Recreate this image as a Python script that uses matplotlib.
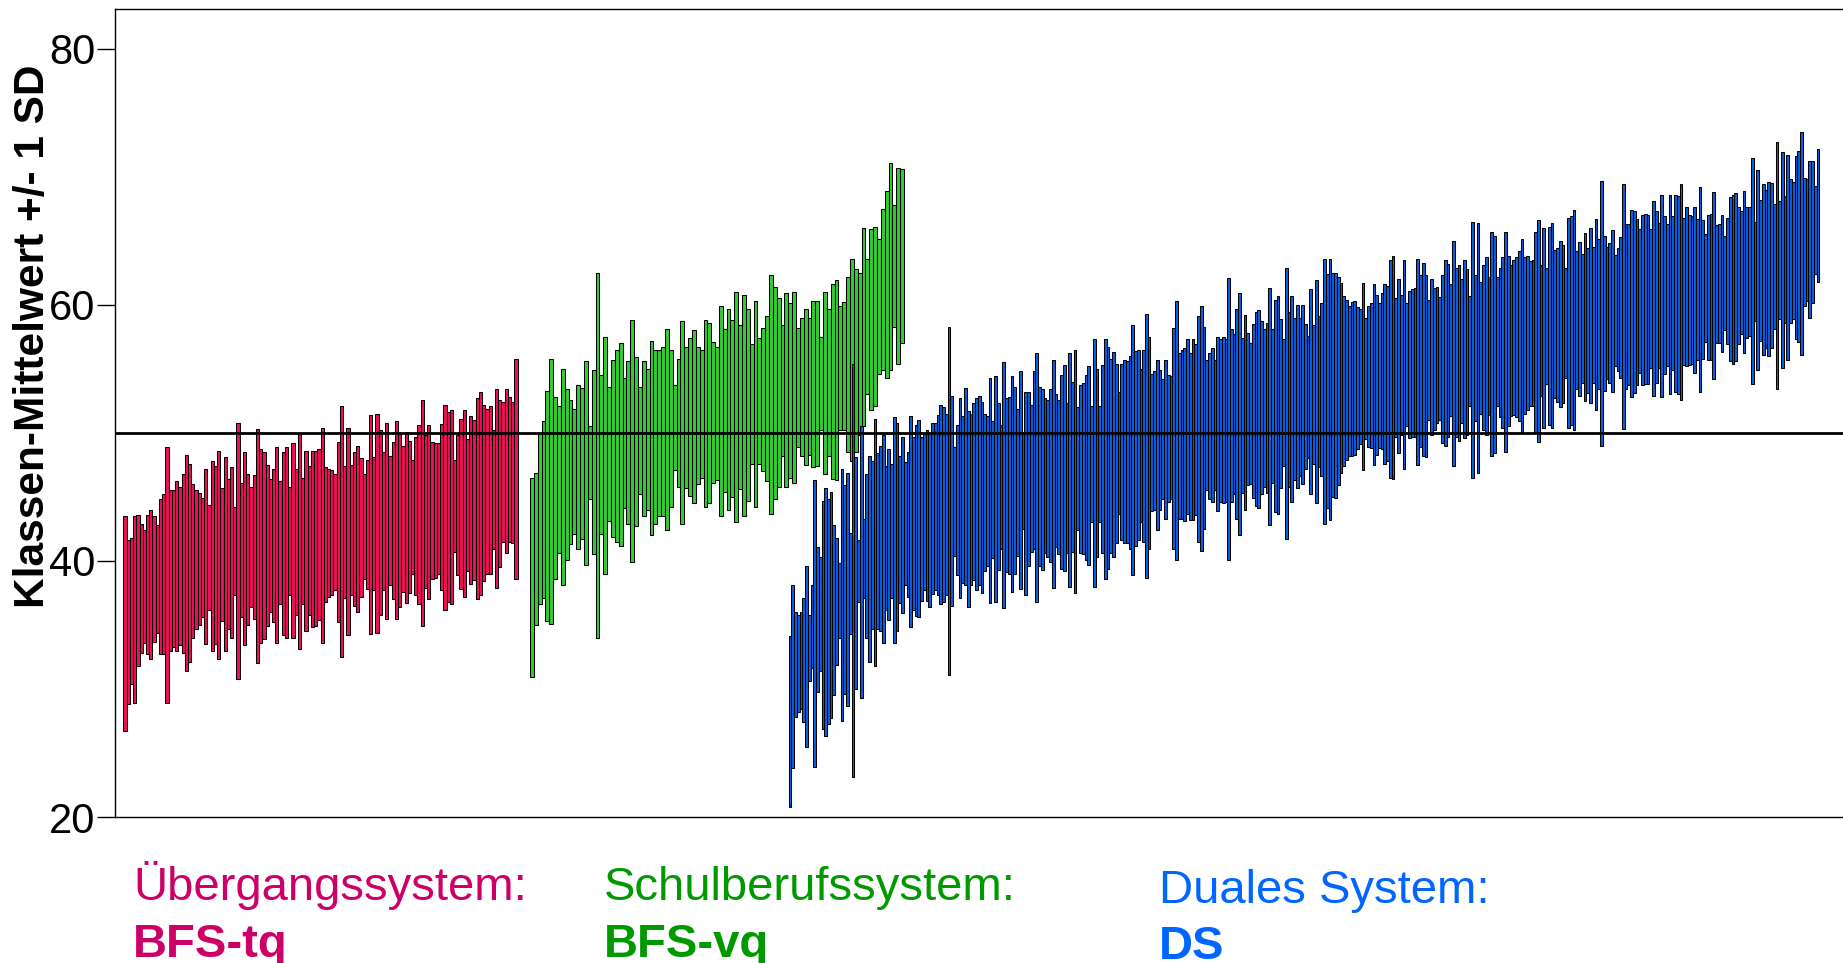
import numpy as np
import matplotlib.pyplot as plt

plt.rcParams['font.family'] = ['Liberation Sans', 'DejaVu Sans']

# Klassen je System, nach Mittelwert sortiert: obere Grenze (M + 1 SD) und untere Grenze (M - 1 SD)
tq_hi = [43.5, 41.6, 41.8, 43.5, 43.6, 42.9, 42.4, 43.6, 44.0, 43.5,
         42.8, 44.8, 45.2, 48.9, 45.5, 45.5, 46.2, 45.8, 46.8, 48.3,
         47.6, 46.0, 45.5, 45.3, 44.9, 47.2, 44.4, 47.8, 47.4, 48.6,
         45.7, 48.1, 46.4, 47.3, 44.2, 50.8, 46.1, 48.5, 46.8, 45.8,
         46.7, 50.3, 48.7, 48.5, 47.5, 46.4, 47.2, 48.9, 46.2, 48.5,
         48.9, 45.8, 49.2, 47.2, 50.0, 46.5, 48.6, 47.4, 48.6, 48.6,
         48.7, 50.4, 47.3, 47.2, 47.1, 46.8, 49.3, 52.1, 47.4, 50.4,
         47.5, 48.5, 49.0, 48.0, 46.8, 47.9, 51.4, 48.1, 51.5, 50.2,
         48.5, 50.8, 48.2, 49.3, 50.9, 50.0, 49.0, 50.1, 49.4, 47.9,
         49.7, 50.6, 52.6, 49.8, 50.6, 49.3, 49.2, 49.2, 50.7, 52.2,
         51.6, 51.8, 47.9, 49.8, 51.1, 51.8, 49.5, 51.3, 51.0, 52.7,
         53.2, 52.2, 51.9, 52.1, 50.2, 53.4, 52.6, 52.4, 53.4, 52.8,
         52.4, 55.8]
tq_lo = [26.7, 28.8, 30.4, 28.9, 31.8, 32.8, 33.6, 32.7, 32.3, 33.7,
         34.4, 32.7, 32.7, 28.9, 33.0, 33.3, 33.0, 33.4, 32.8, 31.4,
         32.1, 34.0, 34.7, 35.0, 35.6, 33.5, 36.2, 33.0, 33.5, 32.3,
         35.3, 33.0, 34.7, 34.0, 37.3, 30.8, 35.6, 33.4, 35.0, 36.4,
         35.5, 32.0, 33.6, 33.9, 34.9, 36.0, 35.2, 33.6, 36.6, 34.2,
         34.0, 37.3, 34.0, 35.8, 33.1, 36.6, 34.5, 35.8, 34.8, 34.9,
         35.4, 33.6, 36.8, 37.2, 37.3, 37.7, 35.2, 32.5, 37.1, 34.2,
         37.3, 36.5, 36.0, 37.2, 38.6, 37.8, 34.3, 37.7, 34.4, 35.8,
         37.7, 35.5, 38.1, 37.0, 35.5, 36.4, 37.6, 36.7, 37.5, 39.0,
         37.3, 36.6, 34.9, 37.9, 37.0, 38.6, 38.7, 39.0, 37.7, 36.2,
         36.8, 36.6, 40.7, 38.9, 37.8, 37.2, 39.2, 38.2, 38.5, 37.0,
         37.3, 38.4, 39.0, 39.0, 40.9, 37.9, 39.5, 41.5, 40.6, 41.5,
         41.4, 38.6]

vq_hi = [46.5, 46.9, 50.0, 50.9, 53.3, 55.8, 52.8, 52.1, 55.0, 53.4,
         52.6, 51.9, 53.7, 53.5, 55.6, 50.5, 54.9, 62.5, 54.5, 57.5,
         53.6, 55.7, 56.5, 57.0, 54.3, 55.6, 58.8, 55.9, 53.6, 55.6,
         55.0, 57.2, 56.5, 56.5, 56.7, 58.1, 56.5, 53.7, 55.8, 58.7,
         56.7, 57.4, 58.0, 56.7, 56.5, 58.8, 58.6, 57.1, 56.7, 59.9,
         58.1, 59.7, 58.8, 61.0, 58.4, 60.8, 59.7, 56.9, 60.3, 57.4,
         58.2, 59.1, 62.3, 61.4, 60.5, 58.4, 60.9, 60.1, 61.0, 58.2,
         59.0, 59.7, 59.0, 60.3, 60.3, 57.5, 61.0, 59.7, 61.6, 61.9,
         59.9, 60.2, 62.2, 63.6, 62.8, 62.5, 66.0, 63.6, 65.9, 66.1,
         65.1, 67.5, 68.9, 71.1, 67.8, 70.7, 70.6]
vq_lo = [30.9, 35.0, 36.6, 37.1, 35.3, 35.1, 38.6, 40.6, 38.1, 40.1,
         41.3, 42.1, 40.9, 41.7, 39.7, 44.8, 40.5, 34.0, 42.1, 39.0,
         43.1, 41.9, 41.5, 41.2, 44.1, 42.9, 39.9, 42.7, 45.2, 43.5,
         44.0, 42.0, 42.9, 43.5, 43.5, 42.4, 44.2, 47.1, 45.8, 42.9,
         45.7, 45.1, 44.5, 46.0, 46.5, 44.2, 44.5, 46.1, 46.3, 43.5,
         45.4, 44.0, 45.0, 43.0, 45.6, 43.5, 44.7, 47.6, 44.2, 47.6,
         47.0, 46.2, 43.7, 44.8, 45.8, 48.2, 45.8, 46.5, 46.1, 48.9,
         48.2, 47.5, 48.3, 47.3, 47.4, 50.2, 46.8, 48.2, 46.4, 46.3,
         50.2, 50.2, 48.5, 47.8, 48.5, 49.8, 50.5, 53.0, 51.8, 52.1,
         54.6, 54.9, 54.3, 54.9, 58.3, 55.4, 57.0]

ds_hi = [34.1, 38.1, 36.0, 35.8, 36.0, 37.1, 39.6, 35.8, 38.1, 46.3,
         41.1, 40.3, 44.7, 45.7, 44.8, 45.4, 42.8, 41.8, 39.8, 47.2,
         45.9, 46.9, 42.2, 55.4, 48.1, 41.6, 50.5, 43.3, 46.8, 48.2,
         47.8, 51.1, 48.4, 49.0, 49.8, 47.4, 48.7, 47.6, 51.2, 50.8,
         48.2, 49.7, 47.7, 48.5, 51.3, 49.7, 50.6, 51.0, 49.7, 49.9,
         50.2, 50.0, 50.8, 50.8, 51.4, 52.2, 52.0, 51.5, 58.3, 52.9,
         48.9, 50.6, 52.7, 51.3, 53.5, 51.7, 51.5, 52.3,
         52.7, 52.9, 52.4, 51.5, 51.3, 54.3, 50.9, 54.4, 52.3, 50.6,
         55.5, 52.7, 52.8, 54.4, 53.6, 51.9, 54.8, 50.1, 53.2, 53.2,
         52.2, 54.8, 56.2, 53.6, 53.4, 52.7, 52.6, 53.4, 55.7, 53.0,
         52.6, 54.5, 55.3, 52.3, 56.2, 54.0, 56.5, 52.0, 53.7, 53.9,
         54.5, 55.2, 52.1, 57.3, 55.0, 52.1, 55.3, 57.3, 56.7, 55.8,
         56.3, 55.4, 53.2, 55.4, 55.7, 55.6, 56.0, 58.4, 56.4, 56.5,
         55.0, 56.5, 59.3, 57.5, 54.6, 54.8, 55.7, 54.9, 54.2, 55.7,
         54.5, 54.4, 58.2,
         60.3, 56.2, 56.5, 56.6, 57.3, 56.2, 57.3, 56.9, 59.1, 59.9,
         58.3, 55.7, 56.2, 56.6, 55.7, 57.5, 57.3, 57.5, 57.3, 62.1,
         58.1, 57.7, 59.7, 60.9, 57.4, 59.2, 57.8, 57.0, 58.5, 59.4,
         59.6, 58.7, 58.1, 58.6, 61.3, 58.1, 60.4, 60.7, 58.9, 57.3,
         62.9, 59.4, 60.7, 59.0, 60.0, 59.0, 60.0, 58.5, 57.6, 61.2,
         58.4, 61.9, 59.1, 60.1, 63.6, 62.4, 63.6, 62.5, 62.5, 62.2,
         61.7, 60.7, 60.4, 59.9, 60.2, 60.3, 59.8, 59.7, 61.7, 59.0,
         59.9, 60.1, 61.6, 60.8, 60.1, 60.9, 61.6, 61.5, 63.5, 63.8,
         60.5, 62.0, 60.8, 63.5, 60.1, 61.1, 61.2, 61.3, 63.6, 62.3,
         63.3, 62.3, 60.4, 62.0, 61.3, 61.4, 60.6, 62.3, 63.5, 63.2,
         61.6, 65.0, 62.9, 63.1, 62.0, 63.5, 62.8, 60.7, 66.5, 62.3,
         66.4, 61.8, 63.1, 63.7, 62.2, 65.7, 65.4, 62.2, 62.9, 63.7,
         65.7, 63.8, 63.1, 63.5, 63.7, 64.2, 65.1, 63.7, 63.8, 63.4,
         63.5, 65.7, 66.6, 63.1, 66.0, 62.9, 66.1, 66.4, 64.3, 64.4,
         65.0, 64.7,
         62.9, 66.8, 66.9, 67.4, 64.2, 64.9, 64.0, 65.6, 64.4, 66.0,
         64.5, 66.7, 65.1, 69.7, 65.4, 64.5, 64.8, 65.8, 63.9, 64.4,
         65.3, 69.4, 66.3, 66.3, 67.4, 67.3, 66.7, 65.9, 67.0, 67.1,
         67.0, 65.9, 68.1, 67.3, 66.4, 68.6, 66.9, 66.3, 68.6, 66.9,
         68.6, 68.5, 69.4, 66.8, 67.6, 67.0, 66.9, 67.6, 66.7, 69.2,
         66.6, 65.5, 67.0, 67.1, 68.8, 66.2, 66.3, 67.0, 65.4, 66.8,
         68.4, 68.6, 68.7, 67.6, 67.3, 68.9, 67.6, 67.6, 71.5, 66.5,
         70.5, 68.2, 69.4, 69.0, 69.6, 69.5, 67.9, 72.7, 68.1, 71.9,
         68.5, 71.7, 69.8, 69.6, 71.6, 72.0, 73.5, 69.9, 69.8, 71.2,
         71.2, 69.3, 72.2]
ds_lo = [20.8, 23.8, 27.8, 28.2, 28.4, 27.4, 25.5, 30.6, 31.6, 23.9,
         29.8, 31.4, 26.9, 26.3, 27.3, 27.7, 29.5, 31.9, 34.0, 27.5,
         29.6, 28.7, 34.3, 23.1, 30.0, 36.8, 29.3, 37.1, 34.0, 32.1,
         34.7, 31.8, 34.7, 34.5, 33.6, 36.2, 35.4, 37.1, 33.6, 34.5,
         36.7, 35.9, 38.1, 37.2, 34.8, 36.2, 35.7, 35.6, 36.9, 37.7,
         36.9, 36.4, 37.4, 37.7, 37.3, 36.6, 36.8, 37.3, 31.1, 36.5,
         40.4, 38.9, 37.1, 38.3, 38.1, 36.4, 38.1, 38.5,
         37.7, 38.1, 37.5, 39.2, 39.6, 36.7, 40.2, 36.8, 39.3, 40.9,
         36.3, 39.1, 39.0, 37.6, 39.0, 40.4, 37.8, 42.5, 37.3, 39.6,
         40.7, 40.9, 36.8, 39.6, 39.3, 40.6, 40.3, 39.9, 37.9, 41.1,
         40.5, 39.4, 39.2, 40.6, 38.0, 40.7, 37.5, 42.4, 40.6, 40.5,
         40.1, 39.7, 43.0, 38.0, 40.3, 43.0, 40.6, 38.6, 39.4, 40.6,
         40.3, 41.4, 43.7, 41.6, 41.4, 41.4, 40.9, 38.9, 41.2, 41.6,
         43.0, 41.5, 38.7, 40.9, 43.9, 44.0, 42.4, 44.0, 44.8, 43.3,
         44.6, 44.8, 40.9,
         40.1, 43.3, 43.3, 43.1, 43.7, 43.2, 43.2, 43.6, 41.5, 40.8,
         42.5, 45.5, 44.8, 44.6, 45.5, 43.9, 44.6, 44.5, 44.6, 40.1,
         44.6, 45.2, 43.3, 42.0, 45.3, 44.0, 45.9, 46.0, 44.9, 44.3,
         44.1, 45.2, 45.8, 45.3, 42.8, 46.1, 43.8, 43.7, 45.7, 47.4,
         41.7, 45.8, 44.6, 46.3, 45.7, 46.6, 46.0, 47.2, 48.0, 45.2,
         47.6, 44.5, 47.3, 46.6, 42.9, 44.1, 43.2, 45.0, 44.9, 45.9,
         46.9, 47.4, 47.9, 48.2, 48.2, 48.3, 48.7, 49.1, 47.1, 49.5,
         48.9, 48.8, 47.5, 48.3, 48.8, 48.7, 47.6, 47.8, 46.5, 46.4,
         49.7, 48.4, 49.8, 47.2, 50.5, 49.6, 49.7, 49.7, 47.5, 48.9,
         48.2, 48.1, 51.0, 49.8, 50.2, 50.8, 51.0, 49.2, 49.0, 49.7,
         51.3, 47.4, 49.7, 49.4, 50.8, 49.6, 49.8, 52.1, 46.5, 50.9,
         46.9, 51.5, 50.2, 49.8, 51.4, 48.2, 48.4, 52.1, 51.2, 50.4,
         48.5, 50.5, 51.3, 51.4, 51.2, 50.9, 50.1, 51.5, 51.8, 52.1,
         52.1, 50.1, 49.3, 52.9, 50.4, 53.8, 50.6, 50.4, 52.7, 52.4,
         52.0, 52.3,
         54.3, 50.4, 50.6, 50.2, 53.4, 52.9, 53.9, 52.5, 53.1, 52.3,
         53.9, 51.8, 53.4, 49.0, 53.3, 54.2, 53.9, 53.2, 55.2, 54.8,
         54.3, 50.3, 53.4, 53.7, 52.8, 53.1, 53.7, 54.7, 53.7, 53.8,
         53.8, 55.1, 52.9, 53.9, 55.1, 52.8, 54.6, 55.2, 53.0, 54.9,
         53.2, 53.0, 52.6, 55.3, 55.2, 55.3, 55.4, 54.7, 55.7, 53.2,
         55.8, 57.1, 55.7, 55.7, 54.2, 57.0, 57.0, 56.3, 58.0, 56.9,
         55.6, 55.4, 55.6, 56.9, 57.7, 56.2, 57.4, 57.6, 53.8, 58.7,
         54.9, 57.2, 56.1, 56.6, 56.0, 56.6, 58.1, 53.4, 58.9, 55.1,
         58.6, 55.7, 58.6, 58.9, 57.3, 57.1, 56.1, 59.9, 60.3, 59.0,
         60.1, 62.4, 61.8]

ref_value = 50
y_ticks = [20, 40, 60, 80]

# Gruppen: Daten, Farbe, Bereich auf der x-Achse (Pixel ab linker Achse)
groups = [
    (tq_hi, tq_lo, '#F0105A', (10, 401)),
    (vq_hi, vq_lo, '#33CC33', (417, 787)),
    (ds_hi, ds_lo, '#0B5FE0', (675, 1703)),
]

fig = plt.figure(figsize=(18.43, 9.63), dpi=100)
ax = fig.add_axes([0.0624, 0.1516, 0.9376, 0.8391])

for hi, lo, col, (x0, x1) in groups:
    hi = np.array(hi)
    lo = np.array(lo)
    x = np.linspace(x0, x1, len(hi))
    w = (x1 - x0) / (len(hi) - 1)
    ax.bar(x, hi - lo, bottom=lo, width=w, color=col,
           edgecolor='black', linewidth=0.75, zorder=2)

ax.axhline(ref_value, color='black', linewidth=2.0, zorder=3)

ax.set_xlim(0, 1728)
ax.set_ylim(20, 83.1)
ax.set_xticks([])
ax.set_yticks(y_ticks)
ax.tick_params(axis='y', direction='out', length=13, width=1.0,
               labelsize=30, pad=1)
ax.spines['right'].set_visible(False)
for s in ['left', 'bottom', 'top']:
    ax.spines[s].set_linewidth(1.0)

fig.text(0.018, 0.651, 'Klassen-Mittelwert +/- 1 SD', rotation=90,
         fontsize=30.5, fontweight='bold', ha='center', va='center')

# Legende unten
fig.text(133 / 1843, 1 - 900 / 963, 'Übergangssystem:', color='#CC0066',
         fontsize=34, va='baseline')
fig.text(133 / 1843, 1 - 957 / 963, 'BFS-tq', color='#CC0066',
         fontsize=34, fontweight='bold', va='baseline')
fig.text(604 / 1843, 1 - 900 / 963, 'Schulberufssystem:', color='#009900',
         fontsize=34, va='baseline')
fig.text(604 / 1843, 1 - 957 / 963, 'BFS-vq', color='#009900',
         fontsize=34, fontweight='bold', va='baseline')
fig.text(1159 / 1843, 1 - 903 / 963, 'Duales System:', color='#0066FF',
         fontsize=34, va='baseline')
fig.text(1159 / 1843, 1 - 959 / 963, 'DS', color='#0066FF',
         fontsize=34, fontweight='bold', va='baseline')

fig.savefig('out.png', dpi=100)
